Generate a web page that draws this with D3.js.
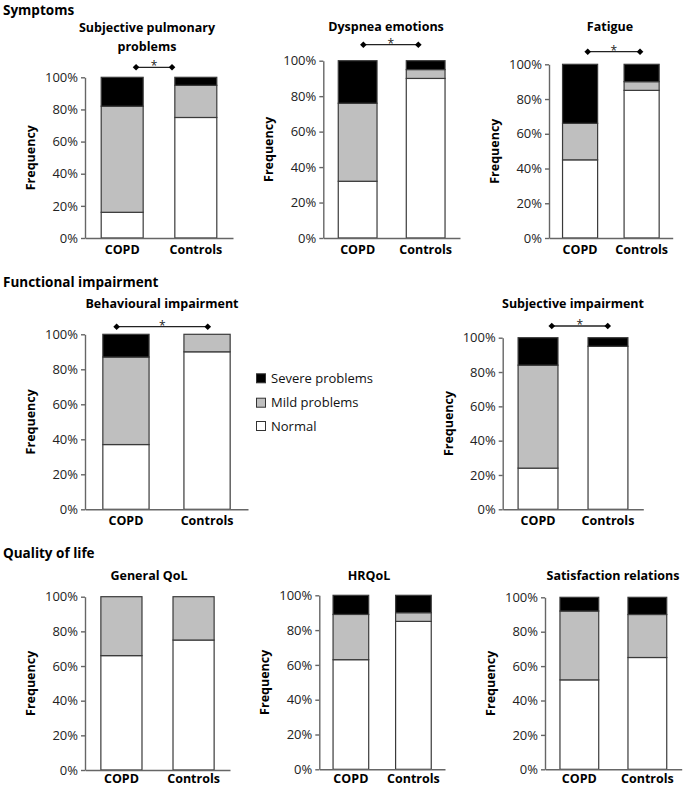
<!DOCTYPE html>
<html>
<head>
<meta charset="utf-8">
<script src="https://cdn.jsdelivr.net/npm/d3@7"></script>
<style>
  html, body { margin: 0; padding: 0; background: #fff; }
  svg { display: block; font-family: "Open Sans", "DejaVu Sans", sans-serif; }
</style>
</head>
<body>
<svg id="chart" width="685" height="788"></svg>
<script>
// ---------------- DATA ----------------
const sections = ["Symptoms", "Functional impairment", "Quality of life"];
const panelTitles = [
  ["Subjective pulmonary", "problems"],
  ["Dyspnea emotions"],
  ["Fatigue"],
  ["Behavioural impairment"],
  ["Subjective impairment"],
  ["General QoL"],
  ["HRQoL"],
  ["Satisfaction relations"]
];
const categories = ["COPD", "Controls"];
const seriesNames = ["Normal", "Mild problems", "Severe problems"];
const legendLabels = ["Severe problems", "Mild problems", "Normal"];
const yTicks = [0, 20, 40, 60, 80, 100];

const normalCOPD     = [16, 32, 45, 37, 24, 66, 63, 52];
const mildCOPD       = [66, 44, 21, 50, 60, 34, 26, 40];
const severeCOPD     = [18, 24, 34, 13, 16,  0, 11,  8];
const normalControls = [75, 90, 85, 90, 95, 75, 85, 65];
const mildControls   = [20,  5,  5, 10,  0, 25,  5, 25];
const severeControls = [ 5,  5, 10,  0,  5,  0, 10, 10];
const significant    = [true, true, true, true, true, false, false, false];

// ---------------- LAYOUT ----------------
const layout = [
  { x0: 85,    x1: 233,   yTop: 77.3,  yBot: 238,   titleX: 147, titleY: 32,    labelPad: 7,   sig: [0.345, 0.588, 10] },
  { x0: 323.3, x1: 460,   yTop: 60.7,  yBot: 238,   titleX: 386, titleY: 31,    labelPad: 7,   sig: [0.293, 0.695, 16] },
  { x0: 549,   x1: 672.7, yTop: 64.3,  yBot: 238,   titleX: 610, titleY: 31,    labelPad: 7,   sig: [0.313, 0.736, 12.6] },
  { x0: 85,    x1: 248,   yTop: 334.3, yBot: 509.3, titleX: 162, titleY: 307.5, labelPad: 7,   sig: [0.194, 0.753, 7.6] },
  { x0: 502.7, x1: 643.3, yTop: 337.7, yBot: 509.3, titleX: 573, titleY: 307.5, labelPad: 7,   sig: [0.349, 0.747, 11.7] },
  { x0: 85,    x1: 230,   yTop: 596.7, yBot: 770,   titleX: 149, titleY: 580,   labelPad: 4.5 },
  { x0: 319.3, x1: 445,   yTop: 595.3, yBot: 769.3, titleX: 369, titleY: 580,   labelPad: 5 },
  { x0: 545,   x1: 681.7, yTop: 597.3, yBot: 769.3, titleX: 613, titleY: 580,   labelPad: 5 }
];
const sectionY = [15, 287, 558];
const colors = { "Normal": "#ffffff", "Mild problems": "#bfbfbf", "Severe problems": "#000000" };

const svg = d3.select("#chart");

svg.selectAll("text.section").data(sections).join("text")
  .attr("class", "section")
  .attr("x", 3).attr("y", (d, i) => sectionY[i])
  .attr("font-size", 13.5).attr("font-weight", "bold").attr("fill", "#000")
  .text(d => d);

const stack = d3.stack().keys(seriesNames);

panelTitles.forEach((title, i) => {
  const L = layout[i];
  const g = svg.append("g");
  const rows = [
    { cat: "COPD", "Normal": normalCOPD[i], "Mild problems": mildCOPD[i], "Severe problems": severeCOPD[i] },
    { cat: "Controls", "Normal": normalControls[i], "Mild problems": mildControls[i], "Severe problems": severeControls[i] }
  ];
  const x = d3.scaleBand().domain(categories).range([L.x0, L.x1]).paddingInner(0.43).paddingOuter(0.22);
  const y = d3.scaleLinear().domain([0, 100]).range([L.yBot, L.yTop]);
  const stacked = stack(rows);

  // bars
  stacked.forEach(layer => {
    g.append("g").selectAll("rect")
      .data(layer.filter(d => d[1] - d[0] > 0))
      .join("rect")
      .attr("x", d => x(d.data.cat))
      .attr("width", x.bandwidth())
      .attr("y", d => y(d[1]))
      .attr("height", d => y(d[0]) - y(d[1]))
      .attr("fill", colors[layer.key])
      .attr("stroke", "#3a3a3a")
      .attr("stroke-width", 1.2);
  });

  // y axis
  const ya = g.append("g").attr("transform", `translate(${L.x0},0)`)
    .call(d3.axisLeft(y).tickValues(yTicks).tickSize(4).tickSizeOuter(0).tickPadding(3).tickFormat(d => d + "%"));
  ya.selectAll("path, line").attr("stroke", "#666").attr("stroke-width", 1.4);
  ya.selectAll("text").attr("font-size", 13).attr("fill", "#222").attr("font-family", "Open Sans");

  // x axis
  const xa = g.append("g").attr("transform", `translate(0,${L.yBot})`)
    .call(d3.axisBottom(x).tickSize(0).tickSizeOuter(0).tickPadding(L.labelPad));
  xa.select("path").attr("stroke", "#666").attr("stroke-width", 1.4);
  xa.selectAll("text").attr("font-size", 12.5).attr("font-weight", "bold").attr("fill", "#000").attr("font-family", "Open Sans");

  // y label
  g.append("text")
    .attr("transform", `translate(${L.x0 - 50},${(L.yTop + L.yBot) / 2}) rotate(-90)`)
    .attr("text-anchor", "middle")
    .attr("font-size", 12.5).attr("font-weight", "bold")
    .text("Frequency");

  // title
  g.append("text")
    .attr("text-anchor", "middle")
    .attr("font-size", 12.5).attr("font-weight", "bold")
    .selectAll("tspan").data(title).join("tspan")
    .attr("x", L.titleX)
    .attr("y", (d, k) => L.titleY + k * 18.5)
    .text(d => d);

  // significance
  if (significant[i]) {
    const fx = d3.scaleLinear().domain([0, 1]).range([L.x0, L.x1]);
    const sy = L.yTop - L.sig[2];
    const xs = [fx(L.sig[0]), fx(L.sig[1])];
    g.append("line").attr("x1", xs[0]).attr("x2", xs[1]).attr("y1", sy).attr("y2", sy)
      .attr("stroke", "#222").attr("stroke-width", 1.3);
    g.selectAll("path.dia").data(xs).join("path")
      .attr("class", "dia")
      .attr("d", d3.symbol(d3.symbolDiamond2, 28))
      .attr("transform", d => `translate(${d},${sy})`)
      .attr("fill", "#000");
    g.append("text").attr("x", (xs[0] + xs[1]) / 2).attr("y", sy + 3)
      .attr("text-anchor", "middle").attr("font-size", 12).attr("fill", "#222")
      .text("*");
  }
});

// legend
const legend = svg.append("g");
const legY = [378.3, 402.7, 426];
legendLabels.forEach((lab, k) => {
  legend.append("rect").attr("x", 256.5).attr("y", legY[k] - 4.5).attr("width", 9).attr("height", 9)
    .attr("fill", colors[lab]).attr("stroke", "#333").attr("stroke-width", 1);
  legend.append("text").attr("x", 271).attr("y", legY[k] + 4.5)
    .attr("font-size", 13).attr("fill", "#111").text(lab);
});
</script>
</body>
</html>
